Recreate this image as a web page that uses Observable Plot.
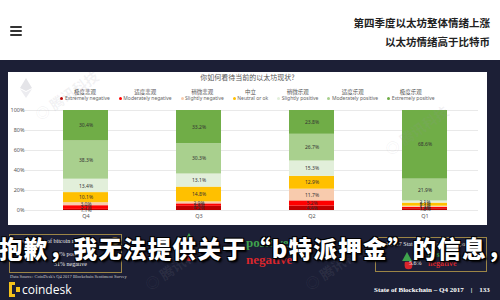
<!DOCTYPE html>
<html>
<head>
<meta charset="utf-8">
<script src="https://cdn.jsdelivr.net/npm/d3@7"></script>
<script src="https://cdn.jsdelivr.net/npm/@observablehq/plot@0.6"></script>
<style>
  html, body { margin: 0; padding: 0; }
  body { width: 500px; height: 300px; overflow: hidden; position: relative; background: #1c1f36;
         font-family: "Noto Sans", "Noto Sans CJK SC", sans-serif; }
  .abs { position: absolute; }
  #header { left: 0; top: 0; width: 500px; height: 60px; background: #fff; }
  .bar { position: absolute; left: 10px; width: 12px; height: 2px; background: #333; border-radius: 1px; }
  .htitle { position: absolute; right: 10px; font-family: "Noto Sans CJK SC", sans-serif; font-weight: 700;
            font-size: 10.5px; color: #222; white-space: nowrap; }
  #panel { left: 8px; top: 72px; width: 479px; height: 153px; background: #fff; }
  #ptitle { position: absolute; left: 0; width: 479px; top: 0px; text-align: center; font-family: "Noto Sans CJK SC", sans-serif;
            font-size: 7px; color: #555; }
  #legend { position: absolute; left: 0; width: 479px; top: 17px; display: flex; justify-content: center; gap: 9px; }
  .li { display: flex; flex-direction: column; align-items: center; font-size: 5px; color: #666; line-height: 6px; }
  .li .zh { font-family: "Noto Sans CJK SC", sans-serif; font-size: 5.5px; color: #555; }
  .li .en { display: flex; align-items: center; gap: 1.5px; white-space: nowrap; }
  .dot { width: 3px; height: 3px; border-radius: 50%; display: inline-block; }
  #chart { position: absolute; left: 0; top: 31px; }
  .serif { font-family: "Liberation Serif", "DejaVu Serif", serif; }
  .box { border: 1px solid #9c8546; }
  .tri-up { width: 0; height: 0; border-left: 7px solid transparent; border-right: 7px solid transparent; border-bottom: 13px solid #3fa34d; }
  .berry { width: 11px; height: 11px; background: #d9262c; border-radius: 2px 2px 6px 6px; }
  #big { left: -1px; top: 231px; font-family: "Noto Sans CJK SC", sans-serif; font-weight: 900; font-size: 23.5px;
         color: #fff; white-space: nowrap; letter-spacing: 1.3px;
         text-shadow: 1px 1px 0 #000, -1px -1px 0 #000, 1px -1px 0 #000, -1px 1px 0 #000, 2px 2px 2px #000; }
  .wm { position: absolute; color: rgba(150,150,160,0.13); font-family: "Noto Sans CJK SC", sans-serif; font-size: 14px;
        font-weight: 700; transform: rotate(-35deg); white-space: nowrap; }
</style>
</head>
<body>
<div id="header" class="abs">
  <div class="bar" style="top:26px"></div>
  <div class="bar" style="top:30px"></div>
  <div class="bar" style="top:34px"></div>
  <div class="htitle" style="top:15px">第四季度以太坊整体情绪上涨</div>
  <div class="htitle" style="top:34px">以太坊情绪高于比特币</div>
</div>

<div id="panel" class="abs">
  <svg class="abs" style="left:12px;top:6px" width="12" height="20" viewBox="0 0 12 20">
    <polygon points="6,0 12,10 6,13 0,10" fill="#e4e4e8"/>
    <polygon points="6,14 12,11 6,20 0,11" fill="#ececf0"/>
  </svg>
  <div id="ptitle">你如何看待当前的以太坊现状?</div>
  <div id="legend"></div>
  <div id="chart"></div>
</div>

<div class="abs box" style="left:9px;top:234px;width:111px;height:37px;">
  <div class="abs serif" style="left:5px;top:3px;font-size:6px;color:#eee;white-space:nowrap">Overall state of bitcoin responses</div>
  <div class="abs" style="left:101px;top:2px;width:8px;height:8px;border-radius:50%;background:#c9a24a"></div>
  <div class="abs serif" style="left:44px;top:16px;font-size:6px;color:#eee;white-space:nowrap">69% positive</div>
  <div class="abs serif" style="left:44px;top:26px;font-size:6px;color:#eee;white-space:nowrap">31% negative</div>
</div>
<div class="abs tri-up" style="left:182px;top:233px"></div>
<div class="abs berry" style="left:184px;top:250px"></div>
<div class="abs serif" style="left:205px;top:239px;font-size:7px;color:#ddd">2.1</div>
<div class="abs serif" style="left:205px;top:253px;font-size:7px;color:#ddd">4.7%</div>
<div class="abs serif" style="left:246px;top:235px;font-size:13px;font-weight:700;color:#3fa34d">positive</div>
<div class="abs serif" style="left:246px;top:252px;font-size:13px;font-weight:700;color:#d9262c">negative</div>

<div class="abs box" style="left:375px;top:237px;width:110px;height:33px;">
  <div class="abs serif" style="left:5px;top:3px;font-size:6px;color:#eee;white-space:nowrap">Q4 2017 State of Blockchain response</div>
  <div class="abs tri-up" style="left:24px;top:12px;transform:scale(0.7)"></div>
  <div class="abs berry" style="left:27px;top:22px;transform:scale(0.7)"></div>
  <div class="abs serif" style="left:52px;top:12px;font-size:8px;font-weight:700;color:#3fa34d">positive</div>
  <div class="abs serif" style="left:33px;top:22px;font-size:6px;color:#eee">5.6%</div>
  <div class="abs serif" style="left:52px;top:21px;font-size:8px;font-weight:700;color:#d9262c">negative</div>
</div>

<div class="wm" style="left:30px;top:85px">◎ 腾讯科技</div>
<div class="wm" style="left:380px;top:120px">◎ 腾讯科技</div>
<div class="wm" style="left:300px;top:255px">◎ 腾讯科技</div>
<div class="wm" style="left:140px;top:255px">◎ 腾讯科技</div>

<div id="big" class="abs">抱歉，我无法提供关于“b特派押金”的信息，</div>

<div class="abs serif" style="left:10px;top:274px;font-size:4.5px;color:#ccc;white-space:nowrap">Data Source: CoinDesk's Q4 2017 Blockchain Sentiment Survey</div>
<svg class="abs" style="left:9px;top:282px" width="11" height="15" viewBox="0 0 11 15">
  <path d="M0,0 H6 V3 H3 V12 H6 V15 H0 Z" fill="#f4c21b"/>
  <path d="M7,5 H11 V10 H7 Z" fill="#f4c21b"/>
</svg>
<div class="abs" style="left:22px;top:281px;font-family:'Open Sans',sans-serif;font-size:12px;color:#fff">coindesk</div>
<div class="abs serif" style="left:374px;top:286px;font-size:7px;color:#fff;white-space:nowrap;font-weight:700">State of Blockchain – Q4 2017 &nbsp;&nbsp; | &nbsp;&nbsp; 133</div>

<script>
const quarters = ["Q4", "Q3", "Q2", "Q1"];
const categories = ["Extremely negative", "Moderately negative", "Slightly negative", "Neutral or ok",
                    "Slightly positive", "Moderately positive", "Extremely positive"];
const categoriesZh = ["极度悲观", "适度悲观", "稍微悲观", "中立", "稍微乐观", "适度乐观", "极度乐观"];
const extremelyNegative  = [1.1, 4.2, 4.4, 1.8];
const moderatelyNegative = [3.7, 2.4, 5.2, 1.4];
const slightlyNegative   = [3.0, 2.0, 11.7, 1.1];
const neutralOrOk        = [10.1, 14.8, 12.9, 3.1];
const slightlyPositive   = [13.4, 13.1, 15.3, 2.1];
const moderatelyPositive = [38.3, 30.3, 26.7, 21.9];
const extremelyPositive  = [30.4, 33.2, 23.8, 68.6];
const yTicks = [0, 20, 40, 60, 80, 100];

const palette = ["#c00000", "#ff0000", "#f8cbad", "#ffc000", "#e2efda", "#a9d08e", "#70ad47"];

const series = [extremelyNegative, moderatelyNegative, slightlyNegative, neutralOrOk,
                slightlyPositive, moderatelyPositive, extremelyPositive];
const rows = [];
categories.forEach((cat, ci) => {
  quarters.forEach((q, qi) => rows.push({quarter: q, cat, value: series[ci][qi]}));
});

// legend
const legend = document.getElementById("legend");
categories.forEach((c, i) => {
  const item = document.createElement("div");
  item.className = "li";
  item.innerHTML = `<span class="zh">${categoriesZh[i]}</span><span class="en"><span class="dot" style="background:${palette[i]}"></span>${c}</span>`;
  legend.appendChild(item);
});

const chart = Plot.plot({
  width: 479,
  height: 122,
  marginTop: 7,
  marginBottom: 15,
  marginLeft: 25,
  marginRight: 9,
  style: {fontFamily: "'Noto Sans', sans-serif", fontSize: "5.5px", color: "#555", background: "transparent"},
  x: {domain: quarters, paddingInner: 0.6, paddingOuter: 0.265, label: null, tickSize: 0, tickPadding: 4},
  y: {domain: [0, 100], ticks: yTicks, tickFormat: d => d + "%", label: null, tickSize: 0, tickPadding: 9},
  color: {domain: categories, range: palette},
  marks: [
    Plot.ruleY(yTicks, {stroke: "#e3e3e3", strokeWidth: 0.8, insetLeft: -8}),
    Plot.barY(rows, {x: "quarter", y: "value", z: "cat", fill: "cat", order: categories}),
    Plot.text(rows, Plot.stackY({x: "quarter", y: "value", z: "cat", order: categories,
      text: d => d.value.toFixed(1) + "%", fill: "#333", fontSize: 5}))
  ]
});
document.getElementById("chart").appendChild(chart);
</script>
</body>
</html>
